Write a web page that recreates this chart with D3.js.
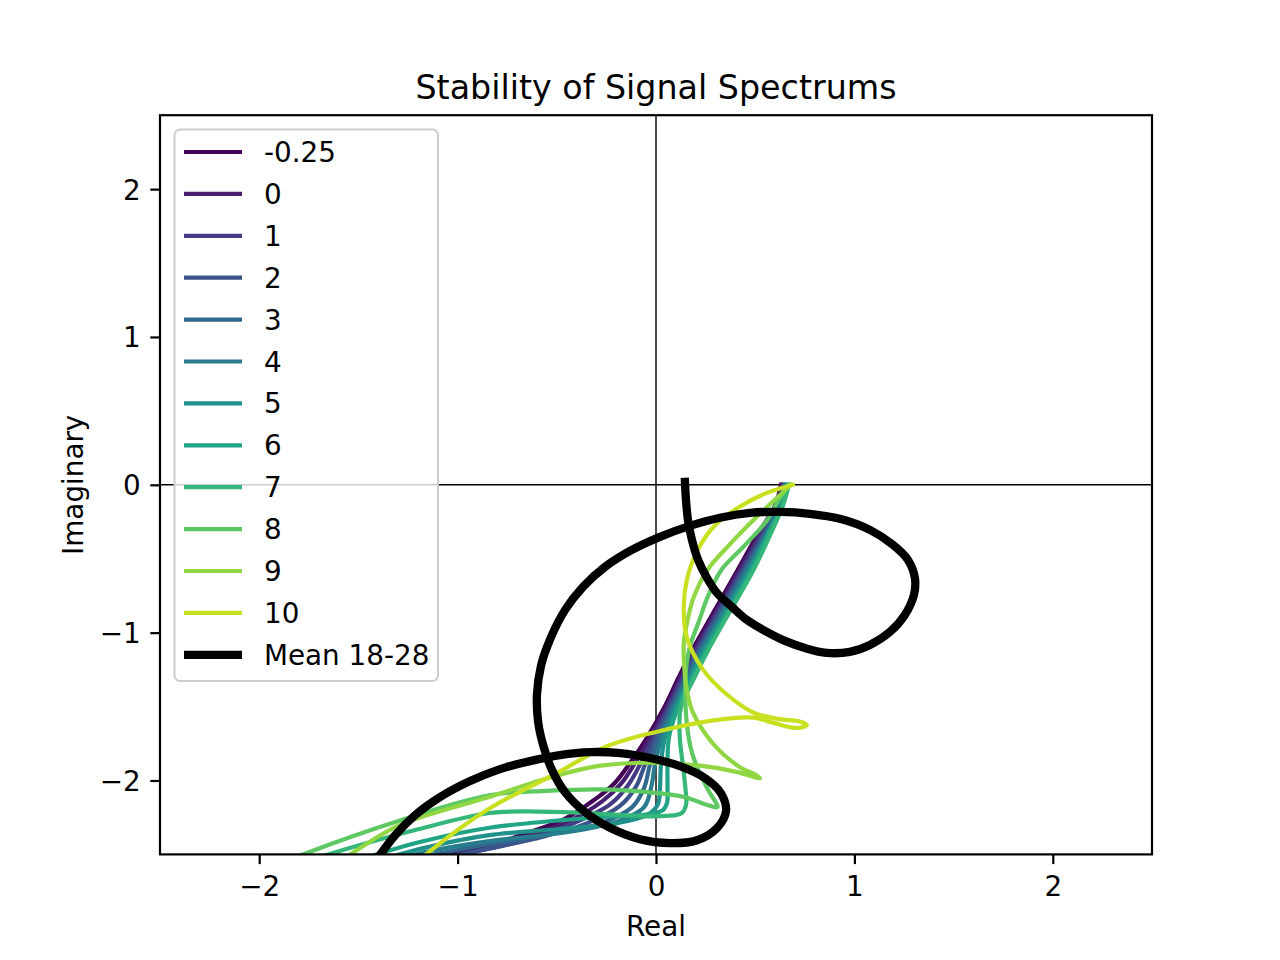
<!DOCTYPE html>
<html><head><meta charset="utf-8">
<script src="https://cdn.jsdelivr.net/npm/d3@7"></script>
<style>body{margin:0;background:#fff}svg{display:block}text{font-family:"DejaVu Sans",sans-serif;fill:#000}</style>
</head><body>
<script>
const labels = ["-0.25","0","1","2","3","4","5","6","7","8","9","10"];
const meanLabel = "Mean 18-28";
const ticks = [-2,-1,0,1,2];

const sM025 = [[0.63,0],[0.60,-0.14],[0.51,-0.34],[0.41,-0.58],[0.27,-0.91],[0.19,-1.10],[0.115,-1.30],[0.04,-1.51],[-0.045,-1.71],[-0.13,-1.88],[-0.21,-2.02],[-0.31,-2.13],[-0.46,-2.26],[-0.66,-2.36],[-0.84,-2.44],[-1.00,-2.49],[-1.10,-2.53]];
const s0 = [[0.635,0],[0.605,-0.14],[0.52,-0.34],[0.42,-0.58],[0.28,-0.91],[0.20,-1.10],[0.125,-1.30],[0.05,-1.51],[-0.03,-1.71],[-0.105,-1.88],[-0.175,-2.02],[-0.27,-2.14],[-0.43,-2.27],[-0.63,-2.37],[-0.84,-2.45],[-1.03,-2.51],[-1.15,-2.55]];
const s1 = [[0.64,0],[0.61,-0.14],[0.53,-0.34],[0.43,-0.58],[0.29,-0.91],[0.21,-1.10],[0.135,-1.30],[0.06,-1.51],[-0.015,-1.71],[-0.08,-1.89],[-0.14,-2.03],[-0.23,-2.16],[-0.40,-2.28],[-0.60,-2.38],[-0.84,-2.46],[-1.06,-2.52],[-1.2,-2.56]];
const s2 = [[0.645,0],[0.615,-0.14],[0.54,-0.34],[0.44,-0.58],[0.30,-0.91],[0.22,-1.10],[0.145,-1.30],[0.07,-1.51],[0.0,-1.71],[-0.055,-1.89],[-0.10,-2.04],[-0.18,-2.17],[-0.35,-2.29],[-0.57,-2.38],[-0.84,-2.46],[-1.10,-2.53],[-1.25,-2.57]];
const s3 = [[0.65,0],[0.62,-0.14],[0.55,-0.34],[0.45,-0.58],[0.31,-0.91],[0.23,-1.10],[0.155,-1.30],[0.08,-1.51],[0.015,-1.71],[-0.03,-1.89],[-0.06,-2.05],[-0.12,-2.18],[-0.28,-2.29],[-0.52,-2.36],[-0.84,-2.43],[-1.15,-2.51],[-1.3,-2.56]];
const s4 = [[0.655,0],[0.625,-0.14],[0.555,-0.34],[0.46,-0.58],[0.32,-0.91],[0.24,-1.10],[0.165,-1.30],[0.09,-1.51],[0.03,-1.71],[-0.005,-1.89],[-0.025,-2.05],[-0.06,-2.18],[-0.2,-2.28],[-0.45,-2.35],[-0.84,-2.41],[-1.15,-2.48],[-1.4,-2.56]];
const s5 = [[0.66,0],[0.63,-0.14],[0.56,-0.34],[0.47,-0.58],[0.33,-0.91],[0.25,-1.10],[0.175,-1.30],[0.10,-1.51],[0.045,-1.71],[0.025,-1.89],[0.02,-2.05],[0.01,-2.16],[-0.04,-2.23],[-0.2,-2.29],[-0.5,-2.33],[-0.84,-2.37],[-1.15,-2.45],[-1.45,-2.56]];
const s6 = [[0.665,0],[0.635,-0.14],[0.565,-0.34],[0.48,-0.58],[0.34,-0.91],[0.26,-1.10],[0.185,-1.30],[0.11,-1.51],[0.065,-1.71],[0.058,-1.89],[0.058,-2.05],[0.056,-2.15],[0.035,-2.20],[-0.05,-2.23],[-0.3,-2.25],[-0.84,-2.32],[-1.2,-2.42],[-1.55,-2.56]];
const s7 = [[0.67,0],[0.64,-0.14],[0.575,-0.34],[0.49,-0.58],[0.35,-0.91],[0.27,-1.10],[0.195,-1.30],[0.125,-1.51],[0.12,-1.71],[0.135,-1.89],[0.148,-2.05],[0.152,-2.16],[0.13,-2.22],[0.05,-2.24],[-0.1,-2.24],[-0.35,-2.22],[-0.6,-2.21],[-0.84,-2.22],[-1.2,-2.33],[-1.5,-2.44],[-1.7,-2.52]];
const s8 = [[0.675,0],[0.62,-0.10],[0.56,-0.24],[0.44,-0.42],[0.33,-0.575],[0.26,-0.76],[0.22,-0.91],[0.17,-1.10],[0.15,-1.27],[0.148,-1.45],[0.155,-1.61],[0.175,-1.78],[0.207,-1.91],[0.265,-2.07],[0.31,-2.18],[0.27,-2.17],[0.136,-2.11],[-0.03,-2.08],[-0.28,-2.06],[-0.55,-2.07],[-0.84,-2.10],[-1.29,-2.27],[-1.76,-2.49],[-1.85,-2.54]];
const s9 = [[0.68,0],[0.60,-0.10],[0.49,-0.24],[0.36,-0.42],[0.26,-0.575],[0.19,-0.76],[0.16,-0.91],[0.14,-1.07],[0.145,-1.27],[0.16,-1.42],[0.186,-1.54],[0.287,-1.75],[0.423,-1.91],[0.50,-1.96],[0.525,-1.985],[0.49,-1.975],[0.40,-1.94],[0.222,-1.90],[-0.03,-1.88],[-0.28,-1.90],[-0.534,-1.98],[-0.836,-2.11],[-1.29,-2.30],[-1.53,-2.49],[-1.6,-2.55]];
const s10 = [[0.69,0],[0.55,-0.06],[0.42,-0.15],[0.30,-0.27],[0.21,-0.44],[0.156,-0.64],[0.14,-0.82],[0.155,-1.03],[0.237,-1.25],[0.35,-1.41],[0.49,-1.54],[0.62,-1.585],[0.72,-1.60],[0.76,-1.625],[0.71,-1.645],[0.59,-1.61],[0.49,-1.575],[0.257,-1.60],[0.005,-1.67],[-0.25,-1.77],[-0.5,-1.95],[-0.84,-2.19],[-1.15,-2.49],[-1.2,-2.55]];
const meanCurve = [[0.146,0.02],[0.151,-0.10],[0.161,-0.237],[0.181,-0.372],[0.212,-0.508],[0.255,-0.625],[0.307,-0.731],[0.383,-0.826],[0.458,-0.914],[0.549,-0.988],[0.65,-1.056],[0.751,-1.104],[0.86,-1.137],[0.977,-1.13],[1.078,-1.083],[1.179,-0.995],[1.254,-0.88],[1.30,-0.745],[1.305,-0.63],[1.27,-0.508],[1.194,-0.406],[1.078,-0.305],[0.927,-0.23],[0.776,-0.196],[0.625,-0.183],[0.474,-0.19],[0.322,-0.223],[0.171,-0.278],[0.02,-0.352],[-0.131,-0.447],[-0.257,-0.555],[-0.368,-0.69],[-0.458,-0.846],[-0.529,-1.03],[-0.579,-1.22],[-0.60,-1.42],[-0.594,-1.605],[-0.569,-1.76],[-0.524,-1.93],[-0.458,-2.08],[-0.358,-2.214],[-0.232,-2.32],[-0.081,-2.397],[0.07,-2.424],[0.207,-2.404],[0.307,-2.322],[0.353,-2.207],[0.327,-2.085],[0.247,-1.984],[0.121,-1.903],[-0.03,-1.848],[-0.181,-1.815],[-0.332,-1.808],[-0.484,-1.828],[-0.635,-1.869],[-0.786,-1.923],[-0.937,-2.004],[-1.088,-2.112],[-1.214,-2.234],[-1.315,-2.37],[-1.40,-2.52],[-1.43,-2.58]];

const series = [sM025,s0,s1,s2,s3,s4,s5,s6,s7,s8,s9,s10];

const W=1280,H=960, L=160,R=1152,T=115.2,B=854.4;
const fs=27.8;
const svg=d3.select("body").append("svg").attr("width",W).attr("height",H);
const x=d3.scaleLinear().domain([-2.5,2.5]).range([L,R]);
const y=d3.scaleLinear().domain([-2.5,2.5]).range([B,T]);
const color=i=>d3.interpolateViridis(i/12);

svg.append("defs").append("clipPath").attr("id","clip").append("rect")
  .attr("x",L).attr("y",T).attr("width",R-L).attr("height",B-T);

const plot=svg.append("g").attr("clip-path","url(#clip)");
plot.append("line").attr("x1",x(-2.5)).attr("x2",x(2.5)).attr("y1",y(0)).attr("y2",y(0)).attr("stroke","#000").attr("stroke-width",1.4);
plot.append("line").attr("x1",x(0)).attr("x2",x(0)).attr("y1",y(-2.5)).attr("y2",y(2.5)).attr("stroke","#000").attr("stroke-width",1.4);

const line=d3.line().x(d=>x(d[0])).y(d=>y(d[1])).curve(d3.curveCatmullRom.alpha(0.5));
series.forEach((s,i)=>{
  plot.append("path").attr("d",line(s)).attr("fill","none").attr("stroke",color(i))
    .attr("stroke-width",4.2).attr("stroke-linejoin","round").attr("stroke-linecap","square");
});
plot.append("path").attr("d",line(meanCurve)).attr("fill","none").attr("stroke","#000")
  .attr("stroke-width",8.3).attr("stroke-linejoin","round").attr("stroke-linecap","square");

svg.append("rect").attr("x",L).attr("y",T).attr("width",R-L).attr("height",B-T)
  .attr("fill","none").attr("stroke","#000").attr("stroke-width",2.2);

const fmt=d=>d<0?"\u2212"+Math.abs(d):String(d);
const xa=svg.append("g").attr("transform",`translate(0,${B})`)
  .call(d3.axisBottom(x).tickValues(ticks).tickSize(9.7).tickPadding(9.7).tickFormat(fmt));
xa.select(".domain").remove();
xa.selectAll(".tick line").attr("stroke","#000").attr("stroke-width",2.2);
xa.selectAll(".tick text").attr("font-size",fs).attr("font-family","DejaVu Sans").attr("dy",null).attr("y",null)
  .attr("transform","translate(0,41.5)");
const ya=svg.append("g").attr("transform",`translate(${L},0)`)
  .call(d3.axisLeft(y).tickValues(ticks).tickSize(9.7).tickPadding(9.7).tickFormat(fmt));
ya.select(".domain").remove();
ya.selectAll(".tick line").attr("stroke","#000").attr("stroke-width",2.2);
ya.selectAll(".tick text").attr("font-size",fs).attr("font-family","DejaVu Sans").attr("dy",null).attr("transform","translate(0,10)");

svg.append("text").attr("x",(L+R)/2).attr("y",98.5).attr("text-anchor","middle").attr("font-size",33.3).text("Stability of Signal Spectrums");
svg.append("text").attr("x",(L+R)/2).attr("y",936).attr("text-anchor","middle").attr("font-size",fs).text("Real");
svg.append("text").attr("transform",`translate(83,${(T+B)/2}) rotate(-90)`).attr("text-anchor","middle").attr("font-size",fs).text("Imaginary");

const lg=svg.append("g");
lg.append("rect").attr("x",174.5).attr("y",129.5).attr("width",263.5).attr("height",551.5).attr("rx",5.5)
  .attr("fill","#fff").attr("fill-opacity",0.8).attr("stroke","#cccccc").attr("stroke-width",2);
const entries=labels.map((l,i)=>({label:l,color:color(i),w:4.2})).concat([{label:meanLabel,color:"#000",w:8.3}]);
entries.forEach((e,i)=>{
  const cy=152+i*41.9;
  lg.append("line").attr("x1",184).attr("x2",242).attr("y1",cy).attr("y2",cy).attr("stroke",e.color).attr("stroke-width",e.w);
  lg.append("text").attr("x",264).attr("y",cy+10).attr("font-size",fs).text(e.label);
});
</script>
</body></html>
